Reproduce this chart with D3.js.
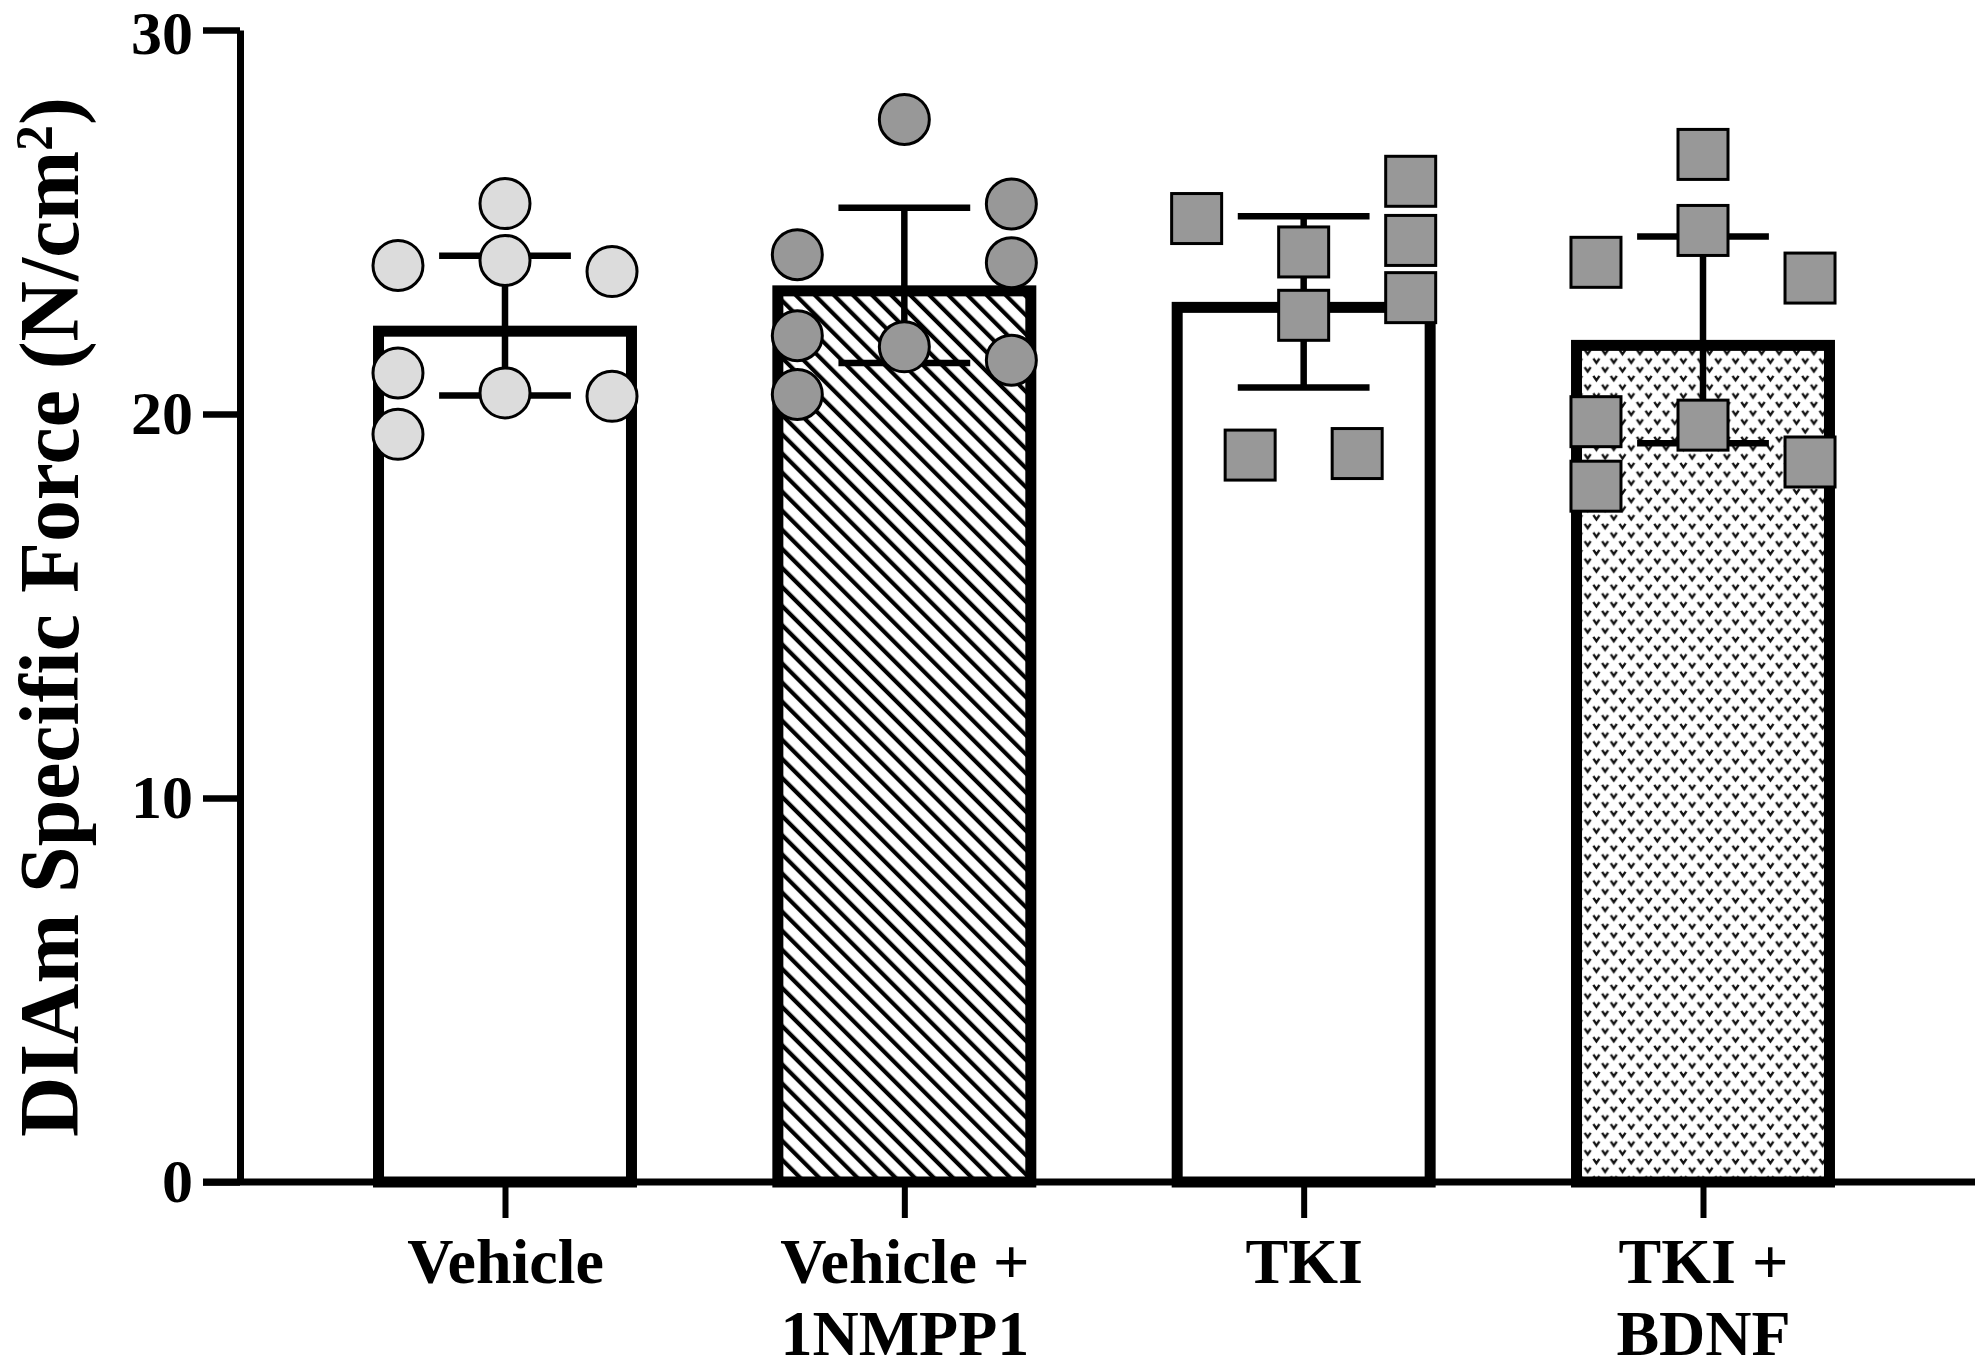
<!DOCTYPE html>
<meta charset="utf-8">
<head>
    <script type="text/javascript" src="https://d3js.org/d3.v7.min.js"></script>
    <style>
        body { margin: 0; background: white; }
        text { font-family: "Liberation Serif", "Times New Roman", serif; font-weight: bold; }
    </style>
    <title></title>
</head>
<body>
<script>

    // data
    var groups = ["Vehicle", "Vehicle + 1NMPP1", "TKI", "TKI + BDNF"]
    var labelLines = [["Vehicle"], ["Vehicle +", "1NMPP1"], ["TKI"], ["TKI +", "BDNF"]]
    var means = [22.30, 23.35, 22.92, 21.93]
    var errors = [1.82, 2.02, 2.23, 2.69]
    var yTicks = [0, 10, 20, 30]

    var vehicleVals = [25.48, 24.00, 23.87, 23.71, 21.07, 19.47, 20.55, 20.46]
    var vehicleCols = [0, 0, -1, 1, -1, -1, 0, 1]
    var nmppVals = [27.67, 24.15, 25.47, 23.94, 21.40, 22.04, 20.51, 21.75]
    var nmppCols = [0, -1, 1, 1, 1, -1, -1, 0]
    var tkiVals = [25.09, 24.22, 22.57, 26.06, 24.52, 23.03, 18.93, 18.97]
    var tkiCols = [-1, 0, 0, 1, 1, 1, -0.5, 0.5]
    var bdnfVals = [26.76, 24.78, 23.95, 23.54, 19.80, 18.12, 19.71, 18.75]
    var bdnfCols = [0, 0, -1, 1, -1, -1, 0, 1]

    var pointVals = [vehicleVals, nmppVals, tkiVals, bdnfVals]
    var pointCols = [vehicleCols, nmppCols, tkiCols, bdnfCols]
    var shapes = ["circle", "circle", "square", "square"]
    var pointFill = ["#dcdcdc", "#989898", "#989898", "#989898"]
    var barFill = ["white", "url(#hatch)", "white", "url(#vees)"]

    var width = 1983
    var height = 1371

    var svg = d3.select("body").append("svg")
        .attr("width", width)
        .attr("height", height)

    var defs = svg.append("defs")

    var hatch = defs.append("pattern")
        .attr("id", "hatch")
        .attr("patternUnits", "userSpaceOnUse")
        .attr("width", 13.5)
        .attr("height", 20)
        .attr("patternTransform", "rotate(-45)")
    hatch.append("rect").attr("width", 13.5).attr("height", 20).attr("fill", "white")
    hatch.append("line")
        .attr("x1", 3).attr("x2", 3).attr("y1", 0).attr("y2", 20)
        .attr("stroke", "black").attr("stroke-width", 4.2)

    var vees = defs.append("pattern")
        .attr("id", "vees")
        .attr("patternUnits", "userSpaceOnUse")
        .attr("width", 17.4)
        .attr("height", 17.4)
    vees.append("rect").attr("width", 17.4).attr("height", 17.4).attr("fill", "white")
    vees.append("path")
        .attr("d", "M1.3,1.8 L4.3,6.2 L7.3,1.8 M10,10.5 L13,14.9 L16,10.5")
        .attr("fill", "none").attr("stroke", "#111").attr("stroke-width", 2.4)

    var y = d3.scaleLinear()
        .domain([0, 30])
        .range([1182, 30])

    var x = d3.scalePoint()
        .domain(groups)
        .range([505, 1703])

    var barW = x.step() * 0.661
    var colStep = x.step() * 0.268
    var capW = x.step() * 0.33

    // bars
    svg.append("g").selectAll("rect")
        .data(groups)
        .enter()
        .append("rect")
        .attr("x", d => x(d) - barW / 2 + 5.5)
        .attr("y", (d, i) => y(means[i]) + 5.5)
        .attr("width", barW - 11)
        .attr("height", (d, i) => y(0) - y(means[i]) - 5.5)
        .attr("fill", (d, i) => barFill[i])
        .attr("stroke", "black")
        .attr("stroke-width", 11)

    // axes
    var yAxis = svg.append("g")
        .attr("transform", "translate(240,0)")
        .call(d3.axisLeft(y).tickValues(yTicks).tickSize(37).tickSizeOuter(0).tickPadding(10))
    yAxis.select(".domain").attr("stroke-width", 7)
    yAxis.selectAll(".tick line").attr("stroke-width", 6.5)
    yAxis.selectAll(".tick text").attr("font-size", 62).attr("fill", "black")
        .attr("dy", d => d === 30 ? "0.38em" : "0.32em")

    svg.append("line")
        .attr("x1", 203).attr("x2", 1975)
        .attr("y1", y(0)).attr("y2", y(0))
        .attr("stroke", "black").attr("stroke-width", 7)

    var xAxis = svg.append("g")
        .attr("transform", "translate(0," + y(0) + ")")
        .call(d3.axisBottom(x).tickSize(36).tickSizeOuter(0))
    xAxis.select(".domain").remove()
    xAxis.selectAll(".tick line").attr("stroke-width", 6)
    xAxis.selectAll(".tick text").each(function (d, i) {
        var t = d3.select(this).text(null)
            .attr("y", 101).attr("dy", null)
            .attr("font-size", 64).attr("fill", "black")
        labelLines[i].forEach(function (line, k) {
            t.append("tspan").attr("x", 0).attr("dy", k === 0 ? 0 : 72).text(line)
        })
    })

    // error bars
    var err = svg.append("g")
    groups.forEach(function (g, i) {
        var cx = x(g)
        var top = y(means[i] + errors[i])
        var bot = y(means[i] - errors[i])
        err.append("line").attr("x1", cx).attr("x2", cx).attr("y1", top).attr("y2", bot)
        err.append("line").attr("x1", cx - capW / 2).attr("x2", cx + capW / 2).attr("y1", top).attr("y2", top)
        err.append("line").attr("x1", cx - capW / 2).attr("x2", cx + capW / 2).attr("y1", bot).attr("y2", bot)
    })
    err.selectAll("line").attr("stroke", "black").attr("stroke-width", 6.5)

    // individual points
    groups.forEach(function (g, i) {
        var pts = pointVals[i].map((v, k) => ({v: v, c: pointCols[i][k]}))
        var sel = svg.append("g").selectAll(".pt")
            .data(pts)
            .enter()
        if (shapes[i] === "circle") {
            sel.append("circle")
                .attr("cx", d => x(g) + d.c * colStep)
                .attr("cy", d => y(d.v))
                .attr("r", 25)
                .attr("fill", pointFill[i])
                .attr("stroke", "black")
                .attr("stroke-width", 3)
        } else {
            sel.append("rect")
                .attr("x", d => x(g) + d.c * colStep - 25)
                .attr("y", d => y(d.v) - 25)
                .attr("width", 50)
                .attr("height", 50)
                .attr("fill", pointFill[i])
                .attr("stroke", "black")
                .attr("stroke-width", 3)
        }
    })

    // y title
    var title = svg.append("text")
        .attr("transform", "translate(78,617) rotate(-90)")
        .attr("text-anchor", "middle")
        .attr("font-size", 84)
        .attr("fill", "black")
    title.append("tspan").text("DIAm Specific Force (N/cm")
    title.append("tspan").attr("baseline-shift", 26).attr("font-size", 52).text("2")
    title.append("tspan").text(")")

    var len = title.node().getComputedTextLength()
    title.attr("font-size", 84 * 1040 / len)

</script>
</body>
</html>
